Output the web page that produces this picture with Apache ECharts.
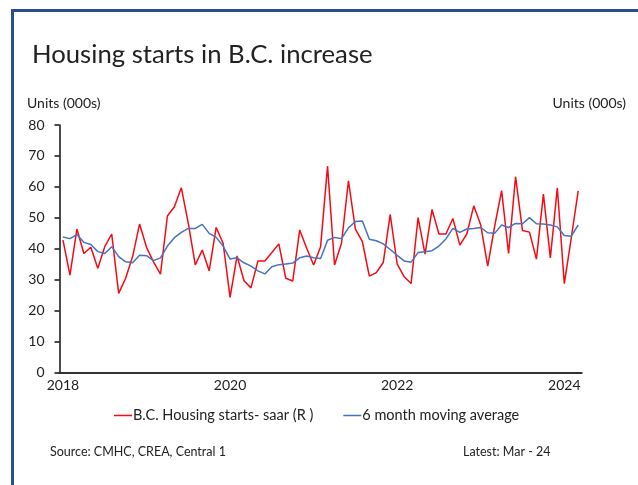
<!DOCTYPE html>
<html><head><meta charset="utf-8">
<script src="https://cdn.jsdelivr.net/npm/echarts@6/dist/echarts.min.js"></script>
<style>html,body{margin:0;padding:0;background:#fff}#c{width:638px;height:485px}</style>
</head><body><div id="c"></div>
<script>
// Monthly categories Jan 2018 .. Mar 2024
const startYear = 2018, monthCount = 75;
const categories = [];
for (let i = 0; i < monthCount; i++) {
  const y = startYear + Math.floor(i / 12), m = (i % 12) + 1;
  categories.push(y + '-' + (m < 10 ? '0' + m : m));
}
const yTicks = [0, 10, 20, 30, 40, 50, 60, 70, 80];
const housingStarts = [42.8,31.5,46.4,38.5,40.5,33.7,40.7,44.8,25.6,30.5,37.5,48.0,
  40.5,35.8,31.8,50.6,53.6,59.7,48.2,34.8,39.6,32.9,46.9,41.8,
  24.3,37.7,29.7,27.4,36.1,36.1,38.8,41.6,30.5,29.6,46.1,40.2,
  34.8,40.7,66.7,34.8,41.8,62.0,46.4,42.3,31.2,32.3,35.6,51.1,
  35.1,31.0,28.8,50.1,38.3,52.7,44.8,44.8,49.8,41.2,44.8,53.9,
  47.7,34.4,47.3,58.8,38.5,63.3,45.9,45.4,36.7,57.7,37.1,59.7,
  28.8,43.5,58.7];
const movingAvg = [43.8,43.3,44.6,42.1,41.4,39.1,38.5,40.7,37.5,35.8,35.5,37.9,
  37.8,36.2,37.1,40.9,43.6,45.3,46.6,46.6,47.9,45.0,43.7,40.9,
  36.7,37.1,35.5,34.4,32.9,31.9,34.2,34.9,35.1,35.4,37.1,37.7,
  37.1,36.9,42.8,43.7,43.3,46.8,48.8,49.0,43.1,42.6,41.6,39.8,
  37.9,36.1,35.7,38.8,39.1,39.4,40.9,43.2,46.6,45.3,46.4,46.6,
  46.9,45.2,45.0,47.7,46.9,48.2,48.1,50.1,48.1,48.0,47.7,47.1,
  44.3,44.1,47.7];
const seriesNames = ['B.C. Housing starts- saar (R )', '6 month moving average'];

const FONT = 'Lato';
const chart = echarts.init(document.getElementById('c'), null, {renderer: 'canvas'});
chart.setOption({
  animation: false,
  backgroundColor: '#fff',
  textStyle: {fontFamily: FONT},
  grid: {left: 59.5, right: 56.3, top: 125, bottom: 112.3, containLabel: false},
  legend: {
    data: seriesNames, left: 109, top: 403, icon: 'rect', itemWidth: 18, itemHeight: 1.5,
    itemGap: 30, textStyle: {fontFamily: FONT, fontSize: 14.5, color: '#222', padding: [0, 0, 0, -4]}
  },
  xAxis: {
    type: 'category', data: categories, boundaryGap: true,
    axisLine: {lineStyle: {color: '#333', width: 2}},
    axisTick: {interval: (i) => i % 24 === 0, length: 4, lineStyle: {color: '#333', width: 1.5}},
    axisLabel: {interval: (i) => i % 24 === 0, formatter: (v) => v.slice(0, 4), color: '#222', fontSize: 14, margin: 6},
    splitLine: {show: false}
  },
  yAxis: {
    type: 'value', min: 0, max: 80, interval: 10,
    axisLine: {show: true, lineStyle: {color: '#111', width: 1.5}},
    axisTick: {show: true, length: 5, lineStyle: {color: '#111', width: 1.5}},
    axisLabel: {color: '#222', fontSize: 14, margin: 15},
    splitLine: {show: false}
  },
  series: [
    {name: seriesNames[0], type: 'line', data: housingStarts, showSymbol: false, symbol: 'none',
     lineStyle: {color: '#f50a14', width: 1.5}, itemStyle: {color: '#f50a14'}, z: 2},
    {name: seriesNames[1], type: 'line', data: movingAvg, showSymbol: false, symbol: 'none',
     lineStyle: {color: '#4472c4', width: 1.5}, itemStyle: {color: '#4472c4'}, z: 3}
  ],
  graphic: [
    {type: 'rect', shape: {x: 11, y: 9, width: 640, height: 3}, style: {fill: '#2d4e8e'}},
    {type: 'rect', shape: {x: 11, y: 9, width: 3, height: 480}, style: {fill: '#2d4e8e'}},
    {type: 'text', left: 32, top: 42, style: {text: 'Housing starts in B.C. increase', fontFamily: FONT, fontSize: 25.7, fill: '#222'}},
    {type: 'text', left: 27, top: 96, style: {text: 'Units (000s)', fontFamily: FONT, fontSize: 14, fill: '#222'}},
    {type: 'text', right: 12, top: 96, style: {text: 'Units (000s)', fontFamily: FONT, fontSize: 14, fill: '#222', align: 'right'}},
    {type: 'text', left: 50, top: 445, style: {text: 'Source: CMHC, CREA, Central 1', fontFamily: FONT, fontSize: 12.5, fill: '#222'}},
    {type: 'text', left: 463, top: 445, style: {text: 'Latest: Mar - 24', fontFamily: FONT, fontSize: 12.5, fill: '#222'}}
  ]
});
</script></body></html>
